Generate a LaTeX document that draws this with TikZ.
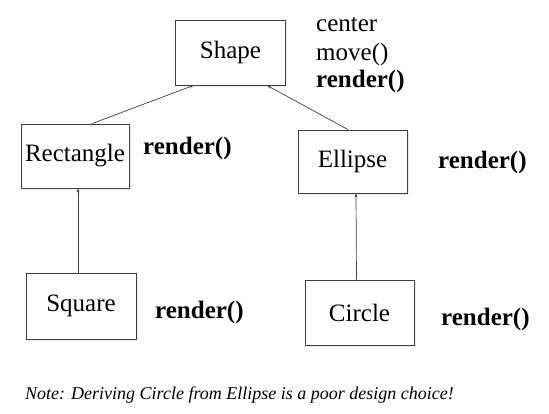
\documentclass[tikz,border=0pt]{standalone}
\usepackage{fontspec}
\setmainfont{Liberation Serif}
\usetikzlibrary{arrows.meta,shadows}
\begin{document}
\begin{tikzpicture}[x=1pt,y=-1pt,
    classbox/.style={draw=black!75, line width=0.8pt, fill=white, inner sep=0pt,
      drop shadow={opacity=0.15, shadow xshift=1.5pt, shadow yshift=-1.5pt}},
    method/.style={anchor=west, inner sep=0pt, font=\fontsize{25}{28}\selectfont\bfseries},
    inherit/.style={draw=black!75, line width=0.7pt, -{Stealth[length=4pt,width=3pt]}}]
    % Define colors
    \definecolor{bgcolor}{RGB}{254,254,254}

    % Draw background
    \fill[bgcolor] (0,0) rectangle (549,413);
    \useasboundingbox (0,0) rectangle (549,413);

    % Draw classes
    \node[classbox, minimum width=110pt, minimum height=65pt, font=\fontsize{25}{28}\selectfont] (shape) at (230.5,52.5) {Shape};
    \node[classbox, minimum width=108pt, minimum height=64pt, font=\fontsize{25}{28}\selectfont] (rect) at (75,156) {Rectangle};
    \node[classbox, minimum width=109pt, minimum height=63pt, font=\fontsize{25}{28}\selectfont] (ellipse) at (352.5,161.5) {Ellipse};
    \node[classbox, minimum width=110pt, minimum height=66pt, font=\fontsize{25}{28}\selectfont] (square) at (81,306) {Square};
    \node[classbox, minimum width=109pt, minimum height=65pt, font=\fontsize{25}{28}\selectfont] (circle) at (359.5,312.5) {Circle};

    % Label members
    \node[method, font=\fontsize{25}{28}\selectfont] (center) at (316,25) {center};
    \node[method, font=\fontsize{25}{28}\selectfont] (move) at (316,54) {move()};
    \node[method] (shaperender) at (316,81) {render()};
    \node[method] (rectrender) at (143,148) {render()};
    \node[method] (ellipserender) at (438,162) {render()};
    \node[method] (squarerender) at (155,312) {render()};
    \node[method] (circlerender) at (441,319) {render()};

    % Draw inheritance arrows
    \draw[inherit] ([xshift=17pt]rect.north) -- ([xshift=-37pt]shape.south);
    \draw[inherit] ([xshift=-4.5pt]ellipse.north) -- ([xshift=36.5pt]shape.south);
    \draw[inherit] ([xshift=-3pt]square.north) -- ([xshift=3pt]rect.south);
    \draw[inherit] ([xshift=-3pt]circle.north) -- ([xshift=3.5pt]ellipse.south);

    % Note
    \node[anchor=west, inner sep=0pt, font=\fontsize{18}{20}\selectfont\itshape] (note) at (25,395) {Note: Deriving Circle from Ellipse is a poor design choice!};
\end{tikzpicture}
\end{document}
